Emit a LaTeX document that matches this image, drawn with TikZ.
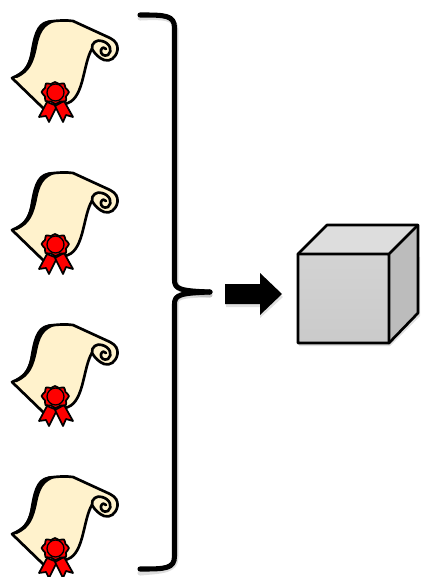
\documentclass[tikz,border=0pt]{standalone}
\usetikzlibrary{calc}
\definecolor{paper}{HTML}{FFF2CC}
\definecolor{seal}{HTML}{FF0000}
\definecolor{cubetop}{HTML}{DDDDDD}
\definecolor{cubefronta}{HTML}{D3D3D3}
\definecolor{cubefrontb}{HTML}{CACACA}
\definecolor{cubeside}{HTML}{BCBCBC}
\tikzset{
  ink/.style={draw=black,line width=2pt,line join=round,line cap=round},
  sealline/.style={draw=black,line width=1.3pt,line join=round},
  softshadow/.style={draw=black,draw opacity=.13,line width=3.8pt,line cap=round,line join=round},
  bracestroke/.style={line width=3.8pt,line cap=round,line join=round},
  scroll/.pic={
    % sheet
    \filldraw[ink,fill=paper] (12,78) .. controls (24,73) and (29,67) .. (32,54)
      .. controls (35,38) and (37,24) .. (50,21.5)
      .. controls (58,20.5) and (66,20) .. (73,21)
      -- (110,38) .. controls (116,41) and (118,45) .. (117.5,50)
      .. controls (116,58) and (110,62) .. (104,60)
      .. controls (99,58) and (95,54) .. (92,49)
      .. controls (88,55) and (86,66) .. (83,78)
      .. controls (80,90) and (76,100) .. (68,103)
      .. controls (60,106) and (50,108) .. (43,108) -- cycle;
    % thick left edge
    \fill[black] (11,78) .. controls (22,73) and (27,68) .. (30,55)
      .. controls (33,38) and (35,23) .. (48,20.5) -- (62,20)
      .. controls (47,23) and (41,28) .. (37.5,45)
      .. controls (34,63) and (30,72) .. (17,78) -- cycle;
    % curl of the roll
    \draw[ink] (92,49) .. controls (91,43) and (97,39) .. (102,41)
      .. controls (110,43) and (113,51) .. (108,55)
      .. controls (104,57) and (100,54) .. (101,50)
      .. controls (102,47) and (105,47) .. (106,49);
    % ribbon tails
    \filldraw[sealline,fill=seal]
      (47,102) -- (39,117) -- (46,116) -- (49,122) -- (57,106) -- cycle;
    \filldraw[sealline,fill=seal]
      (55,106) -- (63,122) -- (66,115) -- (73,117) -- (64,101) -- cycle;
    % rosette
    \filldraw[sealline,fill=seal]
      plot[smooth cycle,tension=.7] coordinates {
      (55,82) (59,84) (64,83.5) (65.5,88) (69,92) (66,96.5) (66,101) (60.5,101.5)
      (55.5,104) (51,101.5) (45.5,101) (45,96.5) (41.5,92) (45,88) (46,83.5) (51,84)};
    \filldraw[sealline,line width=1pt,fill=seal] (55.5,92.5) circle (8.5);
  }
}
\begin{document}
\begin{tikzpicture}[x=0.75pt,y=-0.75pt]
\useasboundingbox (0,0) rectangle (423,577);
\clip (0,0) rectangle (423,577);
\pic at (0,0) {scroll};
\pic at (0,152) {scroll};
\pic at (0,304) {scroll};
\pic at (0,456) {scroll};
% brace shadow and brace
\coordinate (bt) at (140,15);
\coordinate (bb) at (140,569);
\coordinate (bm) at (210,292);
\draw[softshadow] ($(bt)+(0,3)$) .. controls (163,17) and (176,17) .. (176,30) -- (176,280)
  .. controls (176,288) and (178,293) .. ($(bm)+(0,3)$);
\draw[softshadow] ($(bb)+(0,4)$) .. controls (163,571) and (176,571) .. (176,557) -- (176,304)
  .. controls (176,298) and (178,295) .. ($(bm)+(0,3)$);
\draw[bracestroke] (bt) .. controls (165,15) and (174.5,15) .. (174.5,28) -- (174.5,280)
  .. controls (174.5,289) and (180,291) .. (bm);
\draw[bracestroke] (bb) .. controls (165,569) and (174.5,569) .. (174.5,556) -- (174.5,304)
  .. controls (174.5,295) and (180,293) .. (bm);
% block arrow
\fill[black,opacity=.12] (226,287) -- (260,287) -- (260,276) -- (283,297) -- (260,318) -- (260,307) -- (226,307) -- cycle;
\fill[black] (225,284) -- (260,284) -- (260,273) -- (282,294) -- (260,315) -- (260,304) -- (225,304) -- cycle;
% cube
\fill[black,opacity=.12] (299,257) -- (420,257) -- (420,316) -- (390,346) -- (299,346) -- cycle;
\shade[top color=cubefronta,bottom color=cubefrontb] (298,254) rectangle (389,343);
\fill[cubetop] (298,254) -- (327,225) -- (418,225) -- (389,254) -- cycle;
\fill[cubeside] (389,254) -- (418,225) -- (418,313) -- (389,343) -- cycle;
\draw[ink] (298,254) -- (327,225) -- (418,225) -- (418,313) -- (389,343) -- (298,343) -- cycle;
\draw[ink] (298,254) -- (389,254) -- (418,225) (389,254) -- (389,343);
\end{tikzpicture}
\end{document}
